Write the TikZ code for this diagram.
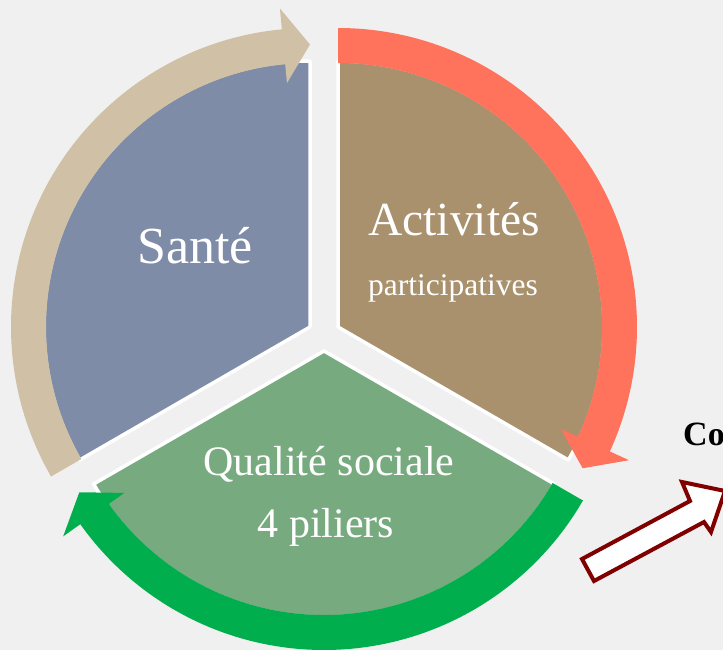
\documentclass[tikz,border=0pt]{standalone}
\usepackage{fontspec}
\setmainfont{Liberation Serif}
\definecolor{santeblue}{RGB}{127,140,168}
\definecolor{actbrown}{RGB}{169,145,109}
\definecolor{qualgreen}{RGB}{119,171,127}
\definecolor{beigearrow}{RGB}{207,192,166}
\definecolor{redarrow}{RGB}{255,115,92}
\definecolor{greenarrow}{RGB}{0,174,78}
\definecolor{bgcol}{RGB}{240,240,240}
\definecolor{darkred}{RGB}{128,0,0}
\begin{document}
\begin{tikzpicture}[x=1pt,y=-1pt,
  sector/.style={draw=white,line width=3.5pt,line join=round},
  lbl/.style={text=white,anchor=base,inner sep=0pt},
  hollow/.style={draw=darkred,fill=white,line width=4pt,line join=miter}]
\fill[bgcol] (0,0) rectangle (723,650);
\useasboundingbox (0,0) rectangle (723,650);
\clip (0,0) rectangle (723,650);
% sectors
\path[sector,fill=santeblue] (310,327) -- ++(-90:266) arc[start angle=-90,end angle=-210,radius=266] -- cycle;
\path[sector,fill=actbrown] (338,327) -- ++(30:266) arc[start angle=30,end angle=-90,radius=266] -- cycle;
\path[sector,fill=qualgreen] (324,351) -- ++(150:266) arc[start angle=150,end angle=30,radius=266] -- cycle;
% circular arrows
\begin{scope}[shift={(310,327)}]
\fill[beigearrow] (-210:264) -- (-210:299) arc[start angle=-210,end angle=-95.4,radius=299]
  -- (-95.4:320) -- (-90:282.5) -- (-95.4:245) -- (-95.4:264)
  arc[start angle=-95.4,end angle=-210,radius=264] -- cycle;
\end{scope}
\begin{scope}[shift={(338,327)}]
\fill[redarrow] (-90:264) -- (-90:299) arc[start angle=-90,end angle=24.6,radius=299]
  -- (24.6:320) -- (30:282.5) -- (24.6:245) -- (24.6:264)
  arc[start angle=24.6,end angle=-90,radius=264] -- cycle;
\end{scope}
\begin{scope}[shift={(324,351)}]
\fill[greenarrow] (30:264) -- (30:299) arc[start angle=30,end angle=144.6,radius=299]
  -- (144.6:320) -- (150:282.5) -- (144.6:245) -- (144.6:264)
  arc[start angle=144.6,end angle=30,radius=264] -- cycle;
\end{scope}
% labels
\node[lbl,font=\fontsize{52}{60}\selectfont] (sante) at (195,263) {Santé};
\node[lbl,font=\fontsize{47.5}{54}\selectfont] (activites) at (454,235) {Activités};
\node[lbl,font=\fontsize{31.5}{36}\selectfont] (particip) at (453,295) {participatives};
\node[lbl,font=\fontsize{42}{48}\selectfont] (qualite) at (329,475) {Qualité sociale};
\node[lbl,font=\fontsize{42}{48}\selectfont] (piliers) at (326,537) {4 piliers};
% hollow arrow and cut text
\path[hollow] (582,559) -- (690,501) -- (682,482) -- (725,491) -- (711,532) -- (704,522) -- (594,581) -- cycle;
\node[anchor=base west,inner sep=0pt,font=\fontsize{34}{40}\selectfont\bfseries] (co) at (683,445) {Co};
\end{tikzpicture}
\end{document}
